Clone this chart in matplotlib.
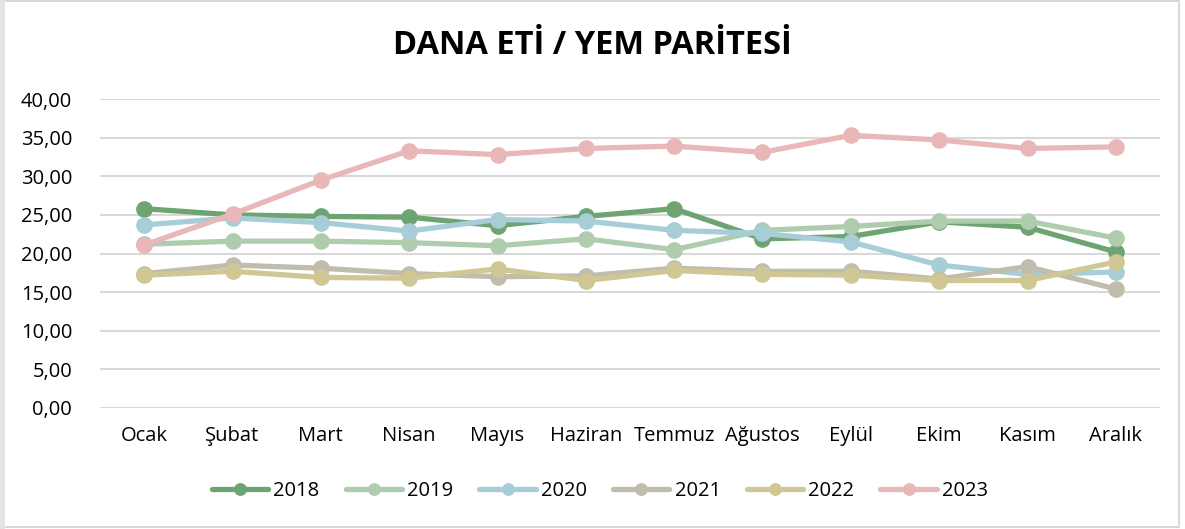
import matplotlib.pyplot as plt
from matplotlib.ticker import FuncFormatter
from matplotlib.patches import Rectangle

months = ['Ocak', 'Şubat', 'Mart', 'Nisan', 'Mayıs', 'Haziran', 'Temmuz',
          'Ağustos', 'Eylül', 'Ekim', 'Kasım', 'Aralık']

y2018 = [25.8, 25.0, 24.8, 24.7, 23.6, 24.8, 25.8, 21.9, 22.2, 24.1, 23.4, 20.2]
y2019 = [21.2, 21.6, 21.6, 21.4, 21.0, 21.9, 20.5, 23.0, 23.5, 24.2, 24.2, 22.0]
y2020 = [23.7, 24.6, 24.0, 22.9, 24.4, 24.2, 23.0, 22.6, 21.5, 18.5, 17.3, 17.6]
y2021 = [17.4, 18.5, 18.1, 17.4, 17.0, 17.1, 18.1, 17.7, 17.7, 16.7, 18.3, 15.4]
y2022 = [17.2, 17.7, 16.9, 16.8, 18.0, 16.5, 17.8, 17.3, 17.2, 16.5, 16.5, 18.9]
y2023 = [21.1, 25.1, 29.5, 33.3, 32.8, 33.6, 33.9, 33.1, 35.3, 34.7, 33.6, 33.8]

series = [
    ('2018', y2018, '#6ea472'),
    ('2019', y2019, '#afcdae'),
    ('2020', y2020, '#a7cdd7'),
    ('2021', y2021, '#c0bdad'),
    ('2022', y2022, '#d0c795'),
    ('2023', y2023, '#e9b7b7'),
]

plt.rcParams['font.family'] = ['Open Sans', 'DejaVu Sans']

fig = plt.figure(figsize=(11.85, 5.29), dpi=100)
ax = fig.add_axes([100 / 1185, 121 / 529, 1060 / 1185, 309 / 529])

x = list(range(len(months)))
for name, vals, color in series:
    ax.plot(x, vals, color=color, lw=3.8, marker='o', markersize=11,
            solid_capstyle='round', label=name)

ax.set_xlim(-0.5, len(months) - 0.5)
ax.set_ylim(0, 40)
ax.set_yticks(range(0, 41, 5))
ax.yaxis.set_major_formatter(FuncFormatter(lambda v, p: f'{v:.2f}'.replace('.', ',')))
ax.set_xticks(x)
ax.set_xticklabels(months)
ax.tick_params(axis='both', length=0, labelsize=14.5, colors='#000000')
ax.tick_params(axis='x', pad=13)
ax.tick_params(axis='y', pad=20)
ax.grid(axis='y', color='#d9d9d9', lw=1.5)
ax.set_axisbelow(True)
for s in ax.spines.values():
    s.set_visible(False)

fig.text(0.5, 1 - 45 / 529, 'DANA ETİ / YEM PARİTESİ', ha='center', va='center',
         fontsize=23.5, fontweight='bold')

ax.legend(loc='center', bbox_to_anchor=(600 / 1185, 1 - 491 / 529),
          bbox_transform=fig.transFigure, ncol=6, frameon=False,
          fontsize=14.5, handlelength=2.8, handletextpad=0.25,
          columnspacing=1.3, markerscale=0.75)

# light frame around the chart area
fig.patches.append(Rectangle((0.002, 0.004), 0.993, 0.994, transform=fig.transFigure,
                             fill=False, edgecolor='#d9d9d9', lw=1.5))
fig.patches.append(Rectangle((0, 0), 5 / 1185, 1, transform=fig.transFigure,
                             facecolor='#e4e4e0', edgecolor='none'))

fig.savefig('out.png', dpi=100)
